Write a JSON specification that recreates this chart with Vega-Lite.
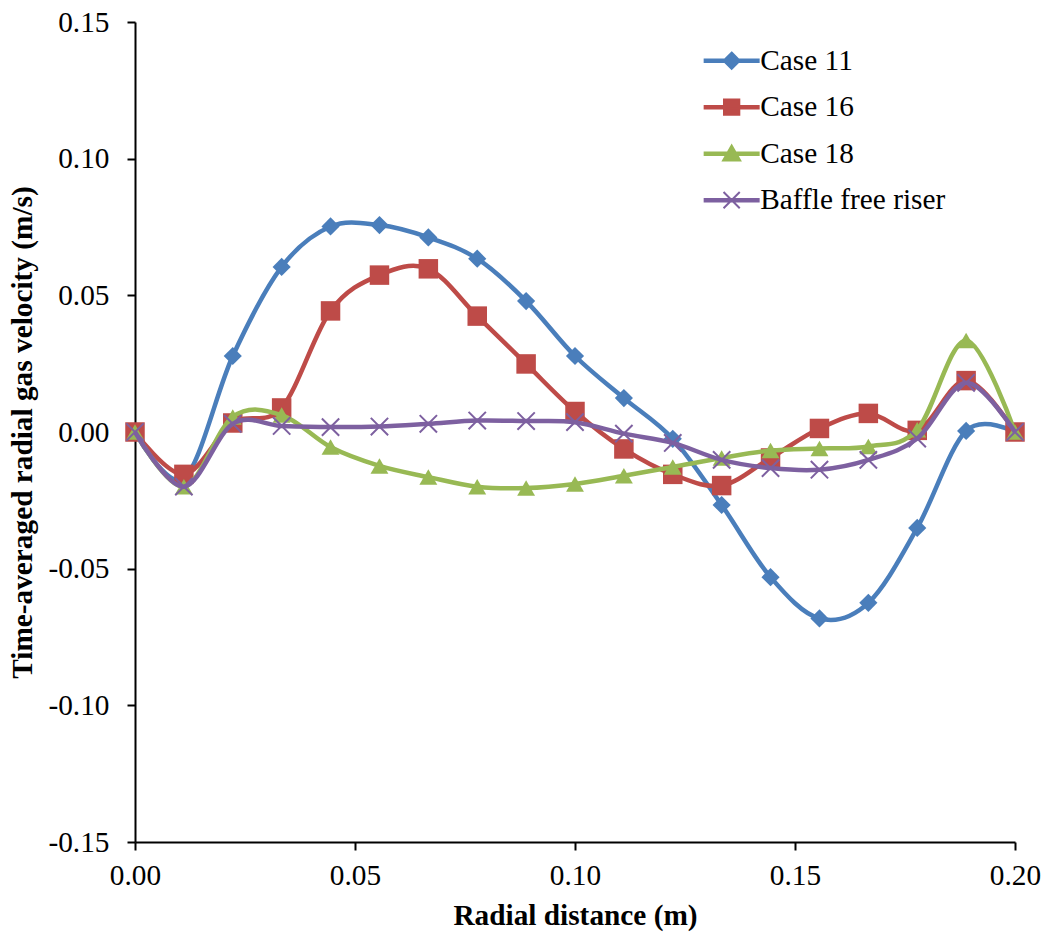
{
  "$schema": "https://vega.github.io/schema/vega-lite/v6.json",
  "width": 880,
  "height": 820,
  "autosize": {"type": "none"},
  "padding": {"left": 135, "top": 22, "right": 35, "bottom": 94},
  "background": "white",
  "config": {
    "view": {"stroke": null},
    "font": "Liberation Serif",
    "axis": {
      "grid": false,
      "domainColor": "black",
      "domainWidth": 2,
      "tickColor": "black",
      "tickWidth": 2,
      "tickSize": 8,
      "labelFont": "Liberation Serif",
      "labelFontSize": 29.3,
      "labelColor": "black",
      "titleFont": "Liberation Serif",
      "titleFontSize": 29.3,
      "titleFontWeight": "bold",
      "titleColor": "black"
    },
    "legend": {
      "padding": 0,
      "symbolStrokeWidth": 2,
      "symbolSize": 324,
      "labelFont": "Liberation Serif",
      "labelFontSize": 29.3,
      "labelLimit": 0
    }
  },
  "data": {
    "values": [
      {"series": "Case 11", "r": 0, "v": 0},
      {"series": "Case 11", "r": 0.01111, "v": -0.017},
      {"series": "Case 11", "r": 0.02222, "v": 0.0278},
      {"series": "Case 11", "r": 0.03333, "v": 0.0604},
      {"series": "Case 11", "r": 0.04444, "v": 0.0752},
      {"series": "Case 11", "r": 0.05556, "v": 0.0757},
      {"series": "Case 11", "r": 0.06667, "v": 0.0712},
      {"series": "Case 11", "r": 0.07778, "v": 0.0634},
      {"series": "Case 11", "r": 0.08889, "v": 0.0479},
      {"series": "Case 11", "r": 0.1, "v": 0.0278},
      {"series": "Case 11", "r": 0.11111, "v": 0.0124},
      {"series": "Case 11", "r": 0.12222, "v": -0.0025},
      {"series": "Case 11", "r": 0.13333, "v": -0.0267},
      {"series": "Case 11", "r": 0.14444, "v": -0.0531},
      {"series": "Case 11", "r": 0.15556, "v": -0.0682},
      {"series": "Case 11", "r": 0.16667, "v": -0.0625},
      {"series": "Case 11", "r": 0.17778, "v": -0.0351},
      {"series": "Case 11", "r": 0.18889, "v": 0.0004},
      {"series": "Case 11", "r": 0.2, "v": 0},
      {"series": "Case 16", "r": 0, "v": 0},
      {"series": "Case 16", "r": 0.01111, "v": -0.0155},
      {"series": "Case 16", "r": 0.02222, "v": 0.0033},
      {"series": "Case 16", "r": 0.03333, "v": 0.0088},
      {"series": "Case 16", "r": 0.04444, "v": 0.0443},
      {"series": "Case 16", "r": 0.05556, "v": 0.0574},
      {"series": "Case 16", "r": 0.06667, "v": 0.0597},
      {"series": "Case 16", "r": 0.07778, "v": 0.0424},
      {"series": "Case 16", "r": 0.08889, "v": 0.0249},
      {"series": "Case 16", "r": 0.1, "v": 0.0075},
      {"series": "Case 16", "r": 0.11111, "v": -0.0062},
      {"series": "Case 16", "r": 0.12222, "v": -0.0155},
      {"series": "Case 16", "r": 0.13333, "v": -0.0196},
      {"series": "Case 16", "r": 0.14444, "v": -0.0095},
      {"series": "Case 16", "r": 0.15556, "v": 0.0013},
      {"series": "Case 16", "r": 0.16667, "v": 0.0068},
      {"series": "Case 16", "r": 0.17778, "v": 0.0006},
      {"series": "Case 16", "r": 0.18889, "v": 0.0188},
      {"series": "Case 16", "r": 0.2, "v": 0},
      {"series": "Case 18", "r": 0, "v": 0},
      {"series": "Case 18", "r": 0.01111, "v": -0.02},
      {"series": "Case 18", "r": 0.02222, "v": 0.0055},
      {"series": "Case 18", "r": 0.03333, "v": 0.0062},
      {"series": "Case 18", "r": 0.04444, "v": -0.0055},
      {"series": "Case 18", "r": 0.05556, "v": -0.0124},
      {"series": "Case 18", "r": 0.06667, "v": -0.0165},
      {"series": "Case 18", "r": 0.07778, "v": -0.02},
      {"series": "Case 18", "r": 0.08889, "v": -0.0205},
      {"series": "Case 18", "r": 0.1, "v": -0.019},
      {"series": "Case 18", "r": 0.11111, "v": -0.016},
      {"series": "Case 18", "r": 0.12222, "v": -0.0128},
      {"series": "Case 18", "r": 0.13333, "v": -0.0095},
      {"series": "Case 18", "r": 0.14444, "v": -0.0068},
      {"series": "Case 18", "r": 0.15556, "v": -0.006},
      {"series": "Case 18", "r": 0.16667, "v": -0.0053},
      {"series": "Case 18", "r": 0.17778, "v": 0.0008},
      {"series": "Case 18", "r": 0.18889, "v": 0.0335},
      {"series": "Case 18", "r": 0.2, "v": 0},
      {"series": "Baffle free riser", "r": 0, "v": 0},
      {"series": "Baffle free riser", "r": 0.01111, "v": -0.02},
      {"series": "Baffle free riser", "r": 0.02222, "v": 0.003},
      {"series": "Baffle free riser", "r": 0.03333, "v": 0.0022},
      {"series": "Baffle free riser", "r": 0.04444, "v": 0.0018},
      {"series": "Baffle free riser", "r": 0.05556, "v": 0.002},
      {"series": "Baffle free riser", "r": 0.06667, "v": 0.003},
      {"series": "Baffle free riser", "r": 0.07778, "v": 0.0042},
      {"series": "Baffle free riser", "r": 0.08889, "v": 0.004},
      {"series": "Baffle free riser", "r": 0.1, "v": 0.0036},
      {"series": "Baffle free riser", "r": 0.11111, "v": -0.0006},
      {"series": "Baffle free riser", "r": 0.12222, "v": -0.004},
      {"series": "Baffle free riser", "r": 0.13333, "v": -0.0102},
      {"series": "Baffle free riser", "r": 0.14444, "v": -0.0132},
      {"series": "Baffle free riser", "r": 0.15556, "v": -0.0138},
      {"series": "Baffle free riser", "r": 0.16667, "v": -0.0102},
      {"series": "Baffle free riser", "r": 0.17778, "v": -0.0024},
      {"series": "Baffle free riser", "r": 0.18889, "v": 0.018},
      {"series": "Baffle free riser", "r": 0.2, "v": 0}
    ]
  },
  "encoding": {
    "x": {
      "field": "r",
      "type": "quantitative",
      "scale": {"domain": [0, 0.2], "nice": false, "zero": false},
      "axis": {
        "title": "Radial distance (m)",
        "values": [0, 0.05, 0.1, 0.15, 0.2],
        "format": ".2f",
        "labelPadding": 11,
        "titlePadding": 11,
        "labelFlush": false
      }
    },
    "y": {
      "field": "v",
      "type": "quantitative",
      "scale": {"domain": [-0.15, 0.15], "nice": false, "zero": false},
      "axis": {
        "title": "Time-averaged radial gas velocity (m/s)",
        "values": [-0.15, -0.1, -0.05, 0, 0.05, 0.1, 0.15],
        "labelExpr": "replace(format(datum.value, '.2f'), '\u2212', '-')",
        "labelPadding": 18,
        "titlePadding": 10,
        "labelFlush": false
      }
    },
    "color": {
      "field": "series",
      "type": "nominal",
      "scale": {
        "domain": ["Case 11", "Case 16", "Case 18", "Baffle free riser"],
        "range": ["#4A7EBB", "#BE4B48", "#98B954", "#7D60A0"]
      },
      "legend": {
        "title": null,
        "orient": "none",
        "legendX": 582,
        "legendY": 24,
        "labelFont": "Liberation Serif",
        "labelFontSize": 29.3,
        "labelColor": "black",
        "labelLimit": 0,
        "labelOffset": 14,
        "rowPadding": 16.5,
        "symbolSize": 324,
        "encode": {
          "symbols": {
            "update": {
              "shape": {"signal": "datum.value === 'Case 11' ? 'M-3,-0.14L3,-0.14L3,0.14L-3,0.14ZM0,-0.9L0.9,0L0,0.9L-0.9,0Z' : datum.value === 'Case 16' ? 'M-3,-0.14L3,-0.14L3,0.14L-3,0.14ZM-0.85,-0.85L0.85,-0.85L0.85,0.85L-0.85,0.85Z' : datum.value === 'Case 18' ? 'M-3,-0.14L3,-0.14L3,0.14L-3,0.14ZM0,-0.9L0.95,0.75L-0.95,0.75Z' : 'M-3,-0.14L3,-0.14L3,0.14L-3,0.14ZM-0.9,-0.9L0.9,0.9M0.9,-0.9L-0.9,0.9'"},
              "size": {"value": 324},
              "fill": {"scale": "color", "field": "value"},
              "stroke": {"scale": "color", "field": "value"},
              "strokeWidth": {"value": 2},
              "opacity": {"value": 1},
              "fillOpacity": {"value": 1},
              "strokeOpacity": {"value": 1}
            }
          }
        }
      }
    }
  },
  "layer": [
    {
      "transform": [{"filter": "datum.series === 'Case 11'"}],
      "layer": [
        {"mark": {"type": "line", "interpolate": "cardinal", "strokeWidth": 4.5}},
        {"mark": {"type": "point", "shape": "diamond", "filled": true, "size": 330, "opacity": 1}}
      ]
    },
    {
      "transform": [{"filter": "datum.series === 'Case 16'"}],
      "layer": [
        {"mark": {"type": "line", "interpolate": "cardinal", "strokeWidth": 4.5}},
        {"mark": {"type": "point", "shape": "square", "filled": true, "size": 380, "opacity": 1}}
      ]
    },
    {
      "transform": [{"filter": "datum.series === 'Case 18'"}],
      "layer": [
        {"mark": {"type": "line", "interpolate": "cardinal", "strokeWidth": 4.5}},
        {"mark": {"type": "point", "shape": "triangle-up", "filled": true, "size": 320, "opacity": 1}}
      ]
    },
    {
      "transform": [{"filter": "datum.series === 'Baffle free riser'"}],
      "layer": [
        {"mark": {"type": "line", "interpolate": "cardinal", "strokeWidth": 4.5}},
        {"mark": {"type": "point", "shape": "M-1,-1L1,1M1,-1L-1,1", "filled": false, "size": 300, "strokeWidth": 2, "opacity": 1}}
      ]
    }
  ]
}
